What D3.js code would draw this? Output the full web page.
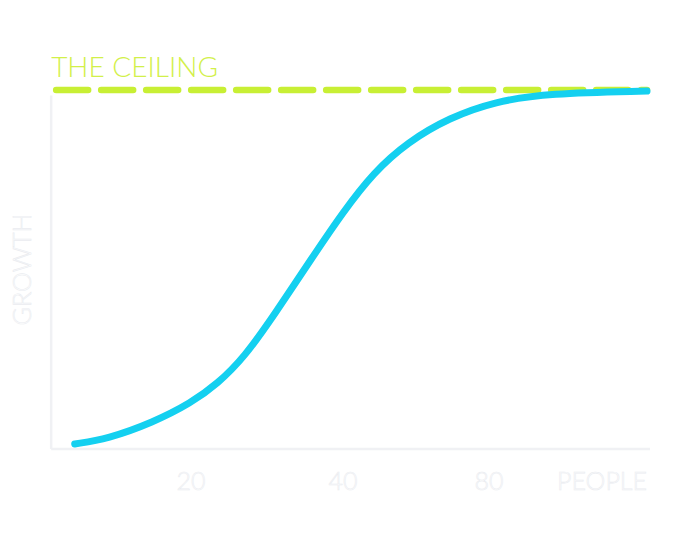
<!DOCTYPE html>
<html>
<head>
<meta charset="utf-8">
<script src="https://cdn.jsdelivr.net/npm/d3@7"></script>
<style>
  body { margin: 0; background: #fff; }
  svg { display: block; }
</style>
</head>
<body>
<script>
// growth curve
const people = [4.7, 9, 15, 20, 23.5, 27, 31, 36, 40, 44, 48.5, 54, 60, 67, 80];
const growth = [1.4, 2.8, 7.4, 12.8, 18.2, 25.5, 37.5, 53.5, 66, 77, 85.5, 92.3, 96.8, 99.1, 99.7];
const ceiling = 100;
const tickValues = [20, 40, 59.2];
const tickLabels = ["20", "40", "80"];

const width = 690, height = 548;

const x = d3.scaleLinear().domain([0, 80]).range([39, 647]);
const y = d3.scaleLinear().domain([0, 100]).range([449, 90]);

const svg = d3.select("body").append("svg")
    .attr("width", width)
    .attr("height", height)
    .attr("viewBox", [0, 0, width, height]);

const faint = sel => sel
    .attr("fill", "#fff")
    .attr("stroke", "#eaecf0")
    .attr("stroke-width", 0.6)
    .attr("font-family", "Lato, 'Open Sans', sans-serif")
    .attr("font-weight", 300);

// axes
svg.append("line")
    .attr("x1", x(1.6)).attr("x2", x(80.4))
    .attr("y1", y(0)).attr("y2", y(0))
    .attr("stroke", "#f0f1f4")
    .attr("stroke-width", 2.5);

svg.append("line")
    .attr("x1", x(1.6)).attr("x2", x(1.6))
    .attr("y1", y(0)).attr("y2", y(98.5))
    .attr("stroke", "#f0f1f4")
    .attr("stroke-width", 2.5);

svg.append("g")
    .selectAll("text")
    .data(tickValues)
    .join("text")
    .attr("x", d => x(d))
    .attr("y", 490)
    .attr("text-anchor", "middle")
    .attr("font-size", 25)
    .text((d, i) => tickLabels[i])
    .call(faint);

svg.append("text")
    .attr("x", x(80))
    .attr("y", 490)
    .attr("text-anchor", "end")
    .attr("font-size", 25)
    .text("PEOPLE")
    .call(faint);

svg.append("text")
    .attr("transform", `translate(31,${y(50)}) rotate(-90)`)
    .attr("text-anchor", "middle")
    .attr("font-size", 25)
    .text("GROWTH")
    .call(faint);

// ceiling
svg.append("line")
    .attr("x1", x(1.6) + 5).attr("x2", x(80))
    .attr("y1", y(ceiling)).attr("y2", y(ceiling))
    .attr("stroke", "#c8ef34")
    .attr("stroke-width", 6.5)
    .attr("stroke-linecap", "round")
    .attr("stroke-dasharray", "32 13");

svg.append("text")
    .attr("x", x(1.6))
    .attr("y", 77)
    .attr("font-family", "Lato, 'Open Sans', sans-serif")
    .attr("font-weight", 300)
    .attr("font-size", 28)
    .attr("fill", "#d2f04a")
    .text("THE CEILING");

// curve
const line = d3.line()
    .x((d, i) => x(people[i]))
    .y(d => y(d))
    .curve(d3.curveBasis);

svg.append("path")
    .datum(growth)
    .attr("fill", "none")
    .attr("stroke", "#14d0f0")
    .attr("stroke-width", 7)
    .attr("stroke-linecap", "round")
    .attr("stroke-linejoin", "round")
    .attr("d", line);
</script>
</body>
</html>
